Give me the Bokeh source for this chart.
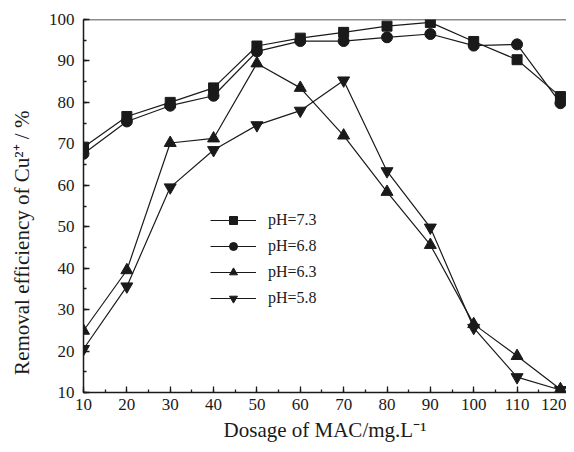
from bokeh.plotting import figure
from bokeh.models import Range1d, SingleIntervalTicker, Legend, LegendItem, Span
from bokeh.embed import file_html
from bokeh.resources import INLINE

dosage = [10, 20, 30, 40, 50, 60, 70, 80, 90, 100, 110, 120]
ph73 = [69.2, 76.6, 80.0, 83.5, 93.6, 95.5, 96.9, 98.4, 99.3, 94.7, 90.3, 81.4]
ph68 = [67.6, 75.4, 79.2, 81.6, 92.3, 94.8, 94.8, 95.7, 96.5, 93.7, 94.0, 79.8]
ph63 = [24.9, 39.5, 70.2, 71.3, 89.4, 83.5, 72.0, 58.4, 45.6, 26.5, 18.8, 10.8]
ph58 = [20.5, 35.6, 59.5, 68.5, 74.5, 78.0, 85.3, 63.4, 49.8, 25.6, 13.7, 10.6]
series_labels = ["pH=7.3", "pH=6.8", "pH=6.3", "pH=5.8"]
x_title = "Dosage of MAC/mg.L\u207b\u00b9"
y_title = "Removal efficiency of Cu\u00b2\u207a / %"
x_ticks_interval = 10
y_ticks_interval = 10

FONT = "Liberation Serif"
INK = "#1a1a1a"

p = figure(width=566, height=444, output_backend="svg", toolbar_location=None,
           x_range=Range1d(10, 121.4), y_range=Range1d(10, 100),
           min_border_left=83, min_border_right=0, min_border_top=19, min_border_bottom=52)
p.outline_line_color = None
p.xgrid.visible = False
p.ygrid.visible = False

p.xaxis.ticker = SingleIntervalTicker(interval=x_ticks_interval, num_minor_ticks=2)
p.yaxis.ticker = SingleIntervalTicker(interval=y_ticks_interval, num_minor_ticks=2)
for ax in (p.xaxis, p.yaxis):
    ax.axis_line_color = INK
    ax.axis_line_width = 1.5
    ax.major_tick_line_color = INK
    ax.minor_tick_line_color = INK
    ax.major_tick_line_width = 1.3
    ax.minor_tick_line_width = 1.3
    ax.major_tick_in = 6
    ax.major_tick_out = 0
    ax.minor_tick_in = 3
    ax.minor_tick_out = 0
    ax.major_label_text_font = FONT
    ax.major_label_text_font_size = "17px"
    ax.major_label_text_color = INK
    ax.axis_label_text_font = FONT
    ax.axis_label_text_font_size = "21px"
    ax.axis_label_text_font_style = "normal"
    ax.axis_label_text_color = INK
p.xaxis.axis_label = x_title
# trailing non-breaking spaces push the rotated title down, as in the reference
p.yaxis.axis_label = y_title + "\u00a0" * 14
p.xaxis.major_label_standoff = 6
p.yaxis.major_label_standoff = 9
p.xaxis.axis_label_standoff = 5
p.yaxis.axis_label_standoff = 12

p.add_layout(Span(location=100, dimension="width", line_color=INK, line_width=1.5))

markers = ["square", "circle", "triangle", "inverted_triangle"]
sizes = [10, 11, 12, 12]
items = []
for ys, mk, sz, lab in zip([ph73, ph68, ph63, ph58], markers, sizes, series_labels):
    r1 = p.line(dosage, ys, line_color=INK, line_width=1.2)
    r2 = p.scatter(dosage, ys, marker=mk, size=sz, fill_color=INK, line_color=INK)
    items.append(LegendItem(label=lab, renderers=[r1, r2]))

legend = Legend(items=items, location=(127, 84), orientation="vertical")
legend.border_line_color = None
legend.background_fill_alpha = 0
legend.padding = 0
legend.margin = 0
legend.spacing = 6
legend.glyph_width = 46
legend.glyph_height = 20
legend.label_height = 20
legend.label_standoff = 12
legend.label_text_font = FONT
legend.label_text_font_size = "16px"
legend.label_text_color = INK
p.add_layout(legend)

open("out.html", "w").write(file_html(p, INLINE))
